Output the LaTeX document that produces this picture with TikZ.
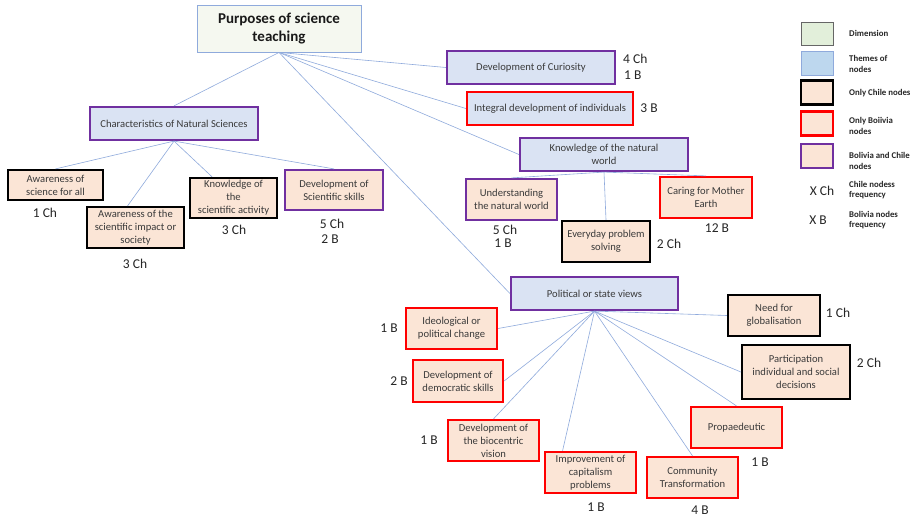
\documentclass[tikz,border=0pt]{standalone}
\usepackage{fontspec}
\setmainfont{Carlito}
\usetikzlibrary{calc}
\definecolor{lblue}{HTML}{DAE3F3}
\definecolor{peach}{HTML}{FBE5D6}
\definecolor{purp}{HTML}{7030A0}
\definecolor{edgec}{HTML}{8FAADC}
\definecolor{titlefill}{HTML}{F5F8F0}
\definecolor{dimfill}{HTML}{E2EFDA}
\definecolor{themefill}{HTML}{BDD7EE}
\definecolor{txt}{HTML}{3A3A3A}
\tikzset{
  box/.style={rectangle, inner sep=1pt, align=center, font=\fontsize{10.6}{13}\selectfont, text=txt, line width=2.2pt},
  theme/.style={box, fill=lblue},
  leaf/.style={box, fill=peach},
  both/.style={draw=purp},
  bol/.style={draw=red},
  chl/.style={draw=black},
  cnt/.style={font=\fontsize{13.5}{15}\selectfont, text=black!85, inner sep=0pt},
  conn/.style={draw=edgec, line width=0.6pt},
  legbox/.style={rectangle, minimum width=32pt, minimum height=24pt, inner sep=0pt},
  leglab/.style={anchor=west, align=left, font=\bfseries\fontsize{8.8}{10.5}\selectfont, text=black!85, inner sep=0pt}
}
\begin{document}
\begin{tikzpicture}[x=1pt,y=-1pt]
\path[use as bounding box, fill=white] (0,0) rectangle (917,518);
% title
\node[rectangle, draw=edgec, line width=0.9pt, fill=titlefill, minimum width=164pt, minimum height=47pt, align=center, font=\bfseries\fontsize{15}{18}\selectfont, text=black!90] (title) at (279,28.5) {Purposes of science\\teaching};
% themes
\node[theme, both, minimum width=168pt, minimum height=33pt] (chars) at (174,123.5) {Characteristics of Natural Sciences};
\node[theme, both, minimum width=168pt, minimum height=33pt] (curio) at (531,67.5) {Development of Curiosity};
\node[theme, bol, minimum width=166pt, minimum height=33pt] (integ) at (550,108.5) {Integral development of individuals};
\node[theme, both, minimum width=168pt, minimum height=33pt] (knw) at (604,154.5) {Knowledge of the natural\\world};
\node[theme, both, minimum width=167pt, minimum height=33pt] (pol) at (594.5,293.5) {Political or state views};
% left leaves
\node[leaf, chl, minimum width=95pt, minimum height=30pt] (aw1) at (55.5,185) {Awareness of\\science for all};
\node[leaf, chl, minimum width=97pt, minimum height=41pt] (aw2) at (135.5,227.5) {Awareness of the\\scientific impact or\\society};
\node[leaf, chl, minimum width=87pt, minimum height=40pt] (ksa) at (233.5,198) {Knowledge of\\the\\scientific activity};
\node[leaf, both, minimum width=98pt, minimum height=40pt] (dss) at (334,190) {Development of\\Scientific skills};
% natural world leaves
\node[leaf, both, minimum width=91pt, minimum height=41pt] (und) at (511.5,199.5) {Understanding\\the natural world};
\node[leaf, chl, minimum width=88pt, minimum height=41pt] (every) at (606,241.5) {Everyday problem\\solving};
\node[leaf, bol, minimum width=92pt, minimum height=41pt] (caring) at (706,197.5) {Caring for Mother\\Earth};
% political leaves
\node[leaf, bol, minimum width=91pt, minimum height=41pt] (ideo) at (451.5,328.5) {Ideological or\\political change};
\node[leaf, bol, minimum width=90pt, minimum height=42pt] (demo) at (458,381) {Development of\\democratic skills};
\node[leaf, bol, minimum width=91pt, minimum height=41pt] (bio) at (493.5,440.5) {Development of\\the biocentric\\vision};
\node[leaf, bol, minimum width=91pt, minimum height=41pt] (imp) at (590.5,472.5) {Improvement of\\capitalism\\problems};
\node[leaf, bol, minimum width=91pt, minimum height=41pt] (comm) at (692.5,477.5) {Community\\Transformation};
\node[leaf, bol, minimum width=91pt, minimum height=41pt] (prop) at (736.5,427.5) {Propaedeutic};
\node[leaf, chl, minimum width=108pt, minimum height=54pt] (part) at (796,372) {Participation\\individual and social\\decisions};
\node[leaf, chl, minimum width=92pt, minimum height=41pt] (glob) at (774,315.5) {Need for\\globalisation};
% connectors
\path[conn] (title.south) -- (chars.north);
\path[conn] (title.south) -- (curio.west);
\path[conn] (title.south) -- (integ.west);
\path[conn] (title.south) -- (knw.west);
\path[conn] (title.south) -- (pol.west);
\path[conn] (chars.south) -- (aw1.north);
\path[conn] (chars.south) -- ($(aw2.north west)!0.42!(aw2.north east)$);
\path[conn] (chars.south) -- ($(ksa.north west)!0.26!(ksa.north east)$);
\path[conn] (chars.south) -- (dss.north);
\path[conn] (knw.south) -- (und.north);
\path[conn] (knw.south) -- (every.north);
\path[conn] (knw.south) -- (caring.north);
\path[conn] (pol.south) -- (ideo.east);
\path[conn] (pol.south) -- (demo.east);
\path[conn] (pol.south) -- (bio.north);
\path[conn] (pol.south) -- ($(imp.north west)!0.2!(imp.north east)$);
\path[conn] (pol.south) -- (comm.north);
\path[conn] (pol.south) -- (prop.north);
\path[conn] (pol.south) -- (part.west);
\path[conn] (pol.south) -- (glob.west);
% counts
\node[cnt, anchor=west] (c1) at (623,59) {4 Ch};
\node[cnt, anchor=west] (c2) at (624,75) {1 B};
\node[cnt] (c3) at (649,108) {3 B};
\node[cnt] (c4) at (505,230) {5 Ch};
\node[cnt] (c5) at (503,243) {1 B};
\node[cnt] (c6) at (669,244) {2 Ch};
\node[cnt] (c7) at (717,228) {12 B};
\node[cnt] (c8) at (45,213) {1 Ch};
\node[cnt] (c9) at (135,264) {3 Ch};
\node[cnt] (c10) at (234,230) {3 Ch};
\node[cnt] (c11) at (332,224) {5 Ch};
\node[cnt] (c12) at (330,239) {2 B};
\node[cnt] (c13) at (389,328) {1 B};
\node[cnt] (c14) at (399,381) {2 B};
\node[cnt] (c15) at (429,440) {1 B};
\node[cnt] (c16) at (596,507) {1 B};
\node[cnt] (c17) at (700,510) {4 B};
\node[cnt] (c18) at (760,462) {1 B};
\node[cnt] (c19) at (869,363) {2 Ch};
\node[cnt] (c20) at (838,313) {1 Ch};
% legend
\node[legbox, draw=gray!80!black, line width=0.9pt, fill=dimfill, minimum height=23pt] (l1) at (817,33.5) {};
\node[legbox, draw=edgec, line width=0.9pt, fill=themefill] (l2) at (817,63) {};
\node[legbox, draw=black, line width=2.2pt, fill=peach] (l3) at (817,92.5) {};
\node[legbox, draw=red, line width=2.2pt, fill=peach] (l4) at (817,123.5) {};
\node[legbox, draw=purp, line width=2.2pt, fill=peach] (l5) at (817,156) {};
\node[leglab] (t1) at (849,33) {Dimension};
\node[leglab] (t2) at (849,64) {Themes of\\nodes};
\node[leglab] (t3) at (849,93) {Only Chile nodes};
\node[leglab] (t4) at (849,126) {Only Boiivia\\nodes};
\node[leglab] (t5) at (849,161) {Bolivia and Chile\\nodes};
\node[cnt] (xch) at (822,191) {X Ch};
\node[cnt] (xb) at (818,220) {X B};
\node[leglab] (t6) at (849,190) {Chile nodess\\frequency};
\node[leglab] (t7) at (849,220) {Bolivia nodes\\frequency};
\end{tikzpicture}
\end{document}
